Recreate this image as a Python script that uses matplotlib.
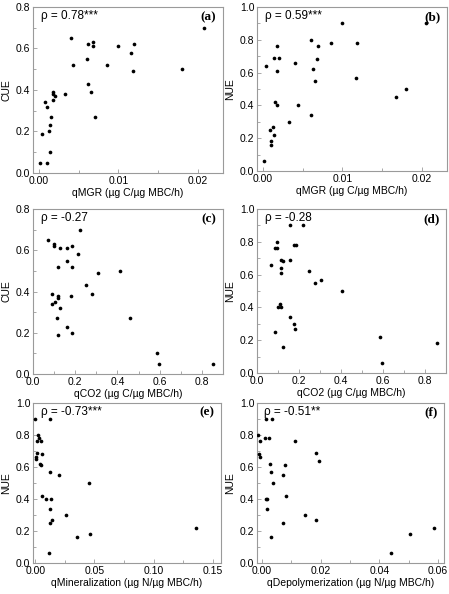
import matplotlib
matplotlib.use('Agg')
import matplotlib.pyplot as plt
from matplotlib.ticker import MultipleLocator, FormatStrFormatter

plt.rcParams['font.family'] = ['Liberation Sans', 'DejaVu Sans']

# (a) CUE vs qMGR
qmgr_a = [0.0001, 0.0010, 0.0004, 0.0008, 0.0010, 0.0012, 0.0014, 0.0014, 0.0015,
          0.0017, 0.0018, 0.0018, 0.0020, 0.0033, 0.0040, 0.0043, 0.0060, 0.0062,
          0.0062, 0.0065, 0.0068, 0.0068, 0.0071, 0.0086, 0.0100, 0.0116, 0.0118,
          0.0120, 0.0180, 0.0208]
cue_a = [0.05, 0.05, 0.19, 0.34, 0.32, 0.20, 0.10, 0.23, 0.27,
         0.39, 0.38, 0.35, 0.37, 0.38, 0.65, 0.52, 0.55, 0.62,
         0.43, 0.39, 0.63, 0.61, 0.27, 0.52, 0.61, 0.58, 0.49,
         0.62, 0.50, 0.70]

# (b) NUE vs qMGR
qmgr_b = [0.0001, 0.0004, 0.0009, 0.0010, 0.0010, 0.0013, 0.0014, 0.0014, 0.0015,
          0.0018, 0.0018, 0.0018, 0.0020, 0.0033, 0.0040, 0.0044, 0.0060, 0.0061,
          0.0063, 0.0065, 0.0068, 0.0069, 0.0086, 0.0100, 0.0117, 0.0119, 0.0168,
          0.0180, 0.0206]
nue_b = [0.06, 0.64, 0.25, 0.18, 0.16, 0.27, 0.22, 0.69, 0.42,
         0.40, 0.76, 0.61, 0.69, 0.30, 0.66, 0.40, 0.34, 0.80,
         0.62, 0.55, 0.68, 0.76, 0.78, 0.90, 0.57, 0.78, 0.45,
         0.50, 0.90]

# (c) CUE vs qCO2
qco2_c = [0.070, 0.100, 0.100, 0.130, 0.159, 0.183, 0.223, 0.211, 0.163, 0.120,
          0.186, 0.309, 0.411, 0.252, 0.092, 0.281, 0.120, 0.120, 0.180, 0.091,
          0.106, 0.127, 0.116, 0.460, 0.161, 0.183, 0.120, 0.588, 0.596, 0.855]
cue_c = [0.65, 0.63, 0.62, 0.61, 0.61, 0.62, 0.70, 0.58, 0.55, 0.52,
         0.52, 0.49, 0.50, 0.43, 0.39, 0.39, 0.38, 0.37, 0.38, 0.34,
         0.35, 0.32, 0.27, 0.27, 0.23, 0.20, 0.19, 0.10, 0.05, 0.05]

# (d) NUE vs qCO2
qco2_d = [0.155, 0.220, 0.097, 0.088, 0.097, 0.178, 0.185, 0.114, 0.125, 0.155,
          0.116, 0.116, 0.066, 0.247, 0.305, 0.275, 0.406, 0.111, 0.098, 0.116,
          0.158, 0.175, 0.180, 0.086, 0.122, 0.585, 0.595, 0.855]
nue_d = [0.90, 0.90, 0.80, 0.76, 0.76, 0.78, 0.78, 0.69, 0.68, 0.69,
         0.64, 0.61, 0.66, 0.62, 0.57, 0.55, 0.50, 0.42, 0.40, 0.40,
         0.34, 0.30, 0.27, 0.25, 0.16, 0.22, 0.06, 0.18]

# (e) NUE vs qMineralization
qmin_e = [0.0001, 0.0122, 0.0024, 0.0029, 0.0010, 0.0044, 0.0015, 0.0060, 0.0004,
          0.0008, 0.0035, 0.0045, 0.0120, 0.0200, 0.0052, 0.0094, 0.0136, 0.0128,
          0.0144, 0.0125, 0.0260, 0.0350, 0.0466, 0.0450, 0.0116, 0.1360]
nue_e = [0.90, 0.90, 0.80, 0.78, 0.76, 0.76, 0.69, 0.68, 0.66,
         0.65, 0.62, 0.61, 0.57, 0.55, 0.42, 0.40, 0.40, 0.34,
         0.27, 0.25, 0.30, 0.16, 0.18, 0.50, 0.06, 0.22]

# (f) NUE vs qDepolymerization
qdep_f = [-0.0013, -0.0008, -0.0011, -0.0006, 0.0014, 0.0033, 0.0009, 0.0024, 0.0112,
          0.0027, 0.0031, 0.0077, 0.0072, 0.0039, 0.0083, 0.0013, 0.0017, 0.0017,
          0.0029, 0.0070, 0.0146, 0.0184, 0.0184, 0.0193, 0.0440, 0.0505, 0.0585]
nue_f = [0.80, 0.76, 0.68, 0.66, 0.90, 0.90, 0.78, 0.78, 0.76,
         0.62, 0.57, 0.61, 0.55, 0.50, 0.42, 0.40, 0.40, 0.34,
         0.16, 0.25, 0.30, 0.27, 0.69, 0.64, 0.06, 0.18, 0.22]

rho_texts = ['\u03c1 = 0.78***', '\u03c1 = 0.59***', '\u03c1 = -0.27',
             '\u03c1 = -0.28', '\u03c1 = -0.73***', '\u03c1 = -0.51**']
letters = ['(a)', '(b)', '(c)', '(d)', '(e)', '(f)']
xlabels = ['qMGR (\u00b5g C/\u00b5g MBC/h)', 'qMGR (\u00b5g C/\u00b5g MBC/h)',
           'qCO2 (\u00b5g C/\u00b5g MBC/h)', 'qCO2 (\u00b5g C/\u00b5g MBC/h)',
           'qMineralization (\u00b5g N/\u00b5g MBC/h)',
           'qDepolymerization (\u00b5g N/\u00b5g MBC/h)']
ylabels = ['CUE', 'NUE', 'CUE', 'NUE', 'NUE', 'NUE']

W, H = 449.0, 594.0
# pixel boxes: left, right, top, bottom
boxes = [(33, 223, 7, 173), (257, 447, 7, 171),
         (33, 223, 209, 374), (257, 446, 209, 373),
         (33, 221, 403, 563), (257, 444, 403, 563)]

xdata = [qmgr_a, qmgr_b, qco2_c, qco2_d, qmin_e, qdep_f]
ydata = [cue_a, nue_b, cue_c, nue_d, nue_e, nue_f]
xlims = [(-0.00076, 0.0232), (-0.00076, 0.0232), (0, 0.9), (0, 0.9),
         (-0.002, 0.157), (-0.0017, 0.062)]
ylims = [(0, 0.8), (0, 1.0), (0, 0.8), (0, 1.0), (0, 1.0), (0, 1.0)]
xmajor = [0.01, 0.01, 0.2, 0.2, 0.05, 0.02]
xfmt = ['%.2f', '%.2f', '%.1f', '%.1f', '%.2f', '%.2f']

fig = plt.figure(figsize=(W / 100, H / 100), dpi=100)

for i in range(6):
    l, r, t, b = boxes[i]
    ax = fig.add_axes([l / W, (H - b) / H, (r - l) / W, (b - t) / H])
    ax.scatter(xdata[i], ydata[i], s=7, color='black', linewidths=0, zorder=3)
    ax.set_xlim(xlims[i])
    ax.set_ylim(ylims[i])
    ax.xaxis.set_major_locator(MultipleLocator(xmajor[i]))
    ax.xaxis.set_minor_locator(MultipleLocator(xmajor[i] / 2))
    ax.xaxis.set_major_formatter(FormatStrFormatter(xfmt[i]))
    ax.yaxis.set_major_locator(MultipleLocator(0.2))
    ax.yaxis.set_minor_locator(MultipleLocator(0.1))
    ax.yaxis.set_major_formatter(FormatStrFormatter('%.1f'))
    for sp in ax.spines.values():
        sp.set_color('#9a9a9a')
        sp.set_linewidth(0.8)
    ax.tick_params(which='both', direction='in', color='#9a9a9a', width=0.6,
                   labelsize=7.5)
    ax.tick_params(axis='x', pad=2.5)
    ax.tick_params(axis='y', pad=2)
    ax.tick_params(which='major', length=3)
    ax.tick_params(which='minor', length=2)
    ax.set_xlabel(xlabels[i], fontsize=7.5, labelpad=1)
    ax.set_ylabel(ylabels[i], fontsize=7.5, labelpad=3)
    ax.text(0.04, 0.945, rho_texts[i], transform=ax.transAxes, fontsize=8.5,
            ha='left', va='center')
    ax.text(0.965, 0.94, letters[i], transform=ax.transAxes, fontsize=9.5,
            fontweight='bold', family='Liberation Serif', ha='right', va='center')

fig.savefig('out.png', dpi=100)
